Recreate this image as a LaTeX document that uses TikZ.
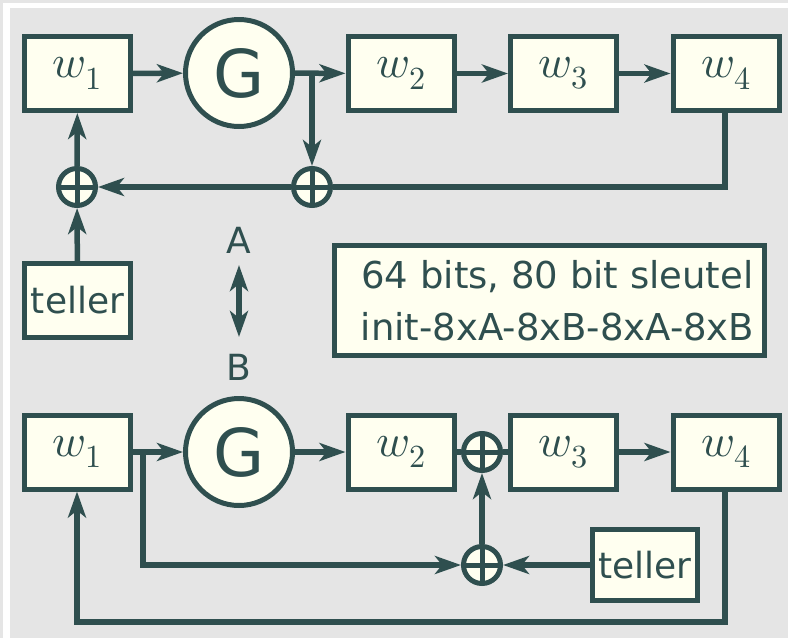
\documentclass[tikz,border=0pt]{standalone}
\usepackage{fontspec}
\usepackage{unicode-math}
\setmainfont{DejaVu Sans}
\setmathfont{Latin Modern Math}
\usetikzlibrary{arrows.meta}
\definecolor{ink}{HTML}{2F4F4F}
\definecolor{paper}{HTML}{FFFFF0}
\definecolor{bg}{HTML}{E5E5E5}
\tikzset{
  blk/.style={draw=ink, fill=paper, line width=5pt, minimum width=106pt, minimum height=74pt, inner sep=0pt, text=ink},
  gen/.style={draw=ink, fill=paper, circle, line width=5pt, minimum size=107pt, inner sep=0pt, text=ink, font=\fontsize{66}{70}\selectfont},
  xor/.style={draw=ink, fill=paper, circle, line width=5pt, minimum size=37pt, inner sep=0pt,
     path picture={\draw[ink, line width=5pt] (path picture bounding box.north) -- (path picture bounding box.south)
       (path picture bounding box.west) -- (path picture bounding box.east);}},
  wl/.style={font=\fontsize{46}{50}\selectfont},
  tl/.style={font=\fontsize{36}{40}\selectfont},
  ln/.style={draw=ink, line width=5.5pt},
  ar/.style={ln, -{Stealth[length=26pt, width=18pt, inset=7pt]}},
  dar/.style={ln, {Stealth[length=26pt, width=18pt, inset=7pt]}-{Stealth[length=26pt, width=18pt, inset=7pt]}},
}
\begin{document}
\begin{tikzpicture}[x=1pt, y=-1pt]
\fill[bg] (0,0) rectangle (788,638);
\fill[white] (3,3) rectangle (788,8);
\fill[white] (3,3) rectangle (10,638);
\useasboundingbox (0,0) rectangle (788,638);
% top row
\node[blk, wl] (w1t) at (77.5,73.5) {$\mathcal{w}_1$};
\node[gen] (gt) at (239,73) {G};
\node[blk, wl] (w2t) at (401,73.5) {$\mathcal{w}_2$};
\node[blk, wl] (w3t) at (563.5,73.5) {$\mathcal{w}_3$};
\node[blk, wl] (w4t) at (726,73.5) {$\mathcal{w}_4$};
\node[xor] (xa) at (77,187) {};
\node[xor] (xb) at (312,187) {};
\node[blk, tl] (tt) at (77.5,300.5) {teller};
\coordinate (gb) at (312,73);
\coordinate (w4c) at (725,187);
\draw[ar] (w1t) -- (gt);
\draw[ar] (gt) -- (w2t);
\draw[ar] (w2t) -- (w3t);
\draw[ar] (w3t) -- (w4t);
\draw[ar] (gb) -- (xb);
\draw[ln] (w4t.south -| w4c) -- (w4c) -- (xb);
\draw[ar] (xb) -- (xa);
\draw[ar] (tt) -- (xa);
\draw[ar] (xa) -- (w1t);
% middle
\node[text=ink, tl] (la) at (239,240) {A};
\node[text=ink, tl] (lb) at (239,367) {B};
\coordinate (da) at (239,265);
\coordinate (db) at (239,337);
\draw[dar] (da) -- (db);
\node[draw=ink, fill=paper, line width=5pt, minimum width=430pt, minimum height=110pt, text=ink,
  font=\fontsize{37}{52}\selectfont, align=center] (info) at (549.5,300.5)
  {\hspace*{16pt}64 bits, 80 bit sleutel\\\hspace*{16pt}init-8xA-8xB-8xA-8xB};
% bottom row
\node[blk, wl] (w1b) at (77.5,452) {$\mathcal{w}_1$};
\node[gen] (gbm) at (239,452) {G};
\node[blk, wl] (w2b) at (401,452) {$\mathcal{w}_2$};
\node[xor] (xc) at (482,452) {};
\node[blk, wl] (w3b) at (563.5,452) {$\mathcal{w}_3$};
\node[blk, wl] (w4b) at (726,452) {$\mathcal{w}_4$};
\node[xor] (xd) at (482,565) {};
\node[blk, tl, minimum width=105pt, minimum height=71pt] (tb) at (645,565) {teller};
\coordinate (br) at (143,452);
\coordinate (brd) at (143,565);
\coordinate (fb1) at (725,622);
\coordinate (fb2) at (77,622);
\draw[ar] (w1b) -- (gbm);
\draw[ar] (gbm) -- (w2b);
\draw[ln] (w2b) -- (xc) -- (w3b);
\draw[ar] (w3b) -- (w4b);
\draw[ar] (br) -- (brd) -- (xd);
\draw[ar] (tb) -- (xd);
\draw[ar] (xd) -- (xc);
\draw[ar] (w4b.south -| fb1) -- (fb1) -- (fb2) -- (w1b.south -| fb2);
\end{tikzpicture}
\end{document}
